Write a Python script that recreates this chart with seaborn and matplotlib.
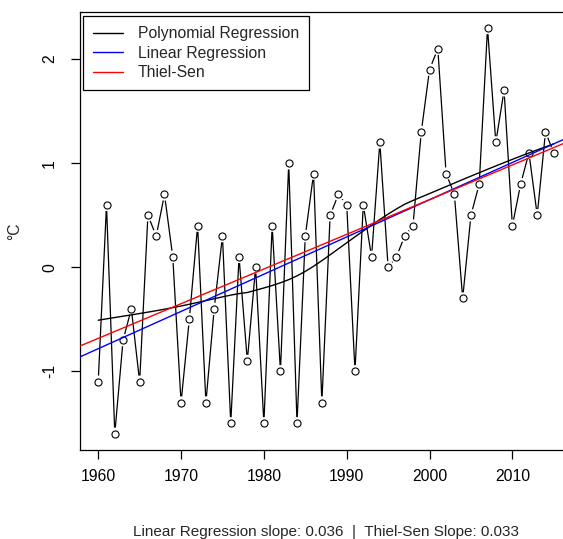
import numpy as np
import pandas as pd
import seaborn as sns
import matplotlib
matplotlib.use("Agg")
import matplotlib.pyplot as plt

# Annual temperature anomaly series (°C)
years = list(range(1960, 2016))
anomaly = [
    -1.1, 0.6, -1.6, -0.7, -0.4, -1.1, 0.5, 0.3, 0.7, 0.1,
    -1.3, -0.5, 0.4, -1.3, -0.4, 0.3, -1.5, 0.1, -0.9, 0.0,
    -1.5, 0.4, -1.0, 1.0, -1.5, 0.3, 0.9, -1.3, 0.5, 0.7,
    0.6, -1.0, 0.6, 0.1, 1.2, 0.0, 0.1, 0.3, 0.4, 1.3,
    1.9, 2.1, 0.9, 0.7, -0.3, 0.5, 0.8, 2.3, 1.2, 1.7,
    0.4, 0.8, 1.1, 0.5, 1.3, 1.1,
]
x_ticks = [1960, 1970, 1980, 1990, 2000, 2010]
y_ticks = [-1, 0, 1, 2]
legend_labels = ["Polynomial Regression", "Linear Regression", "Thiel-Sen"]

df = pd.DataFrame({"year": years, "temp": anomaly})
x = df["year"].to_numpy(float)
y = df["temp"].to_numpy(float)


def lowess(x, y, frac=2 / 3, degree=1, robust_iter=3):
    """Locally weighted polynomial smoother with tricube weights and
    bisquare robustness iterations."""
    n = len(x)
    q = int(np.floor(n * frac))
    rw = np.ones(n)
    fit = np.zeros(n)
    for _ in range(robust_iter + 1):
        for k, x0 in enumerate(x):
            d = np.abs(x - x0)
            h = np.sort(d)[q - 1]
            w = np.clip(1 - (d / h) ** 3, 0, None) ** 3 * rw
            c = np.polyfit(x - x0, y, degree, w=np.sqrt(w))
            fit[k] = c[-1]
        r = y - fit
        s = np.median(np.abs(r))
        u = np.clip(r / (6 * s), -1, 1)
        rw = (1 - u ** 2) ** 2
    return fit


df["smooth"] = lowess(x, y)
lin_slope, lin_int = np.polyfit(x, y, 1)
i, j = np.triu_indices(len(x), k=1)
ts_slope = np.median((y[j] - y[i]) / (x[j] - x[i]))
ts_int = np.median(y - ts_slope * x)

sns.set_theme(style="white")
plt.rcParams["font.family"] = ["Liberation Sans", "DejaVu Sans"]
plt.rcParams["axes.unicode_minus"] = False
FS = 11.3

W, H = 563, 539
fig = plt.figure(figsize=(W / 100, H / 100), dpi=100)
ax = fig.add_axes([80 / W, 1 - 450 / H, (572 - 80) / W, (450 - 11.7) / H])

xpad = 0.04 * (x.max() - x.min())
xlim = (x.min() - xpad, x.max() + xpad)
ypad = 0.04 * (y.max() - y.min())
ylim = (y.min() - ypad, y.max() + ypad)

# Data: line with gaps around the points
sns.lineplot(data=df, x="year", y="temp", ax=ax, color="black", lw=0.9, zorder=1)
ax.scatter(x, y, s=80, color="white", edgecolors="none", zorder=2)
ax.scatter(x, y, s=26, facecolors="white", edgecolors="black", linewidths=0.8, zorder=3)

# Fitted curves
xl = np.array(xlim)
sns.lineplot(data=df, x="year", y="smooth", ax=ax, color="black", lw=1.0, zorder=4,
             label=legend_labels[0])
ax.plot(xl, lin_int + lin_slope * xl, color="blue", lw=1.0, zorder=5, label=legend_labels[1])
ax.plot(xl, ts_int + ts_slope * xl, color="red", lw=1.0, zorder=6, label=legend_labels[2])

ax.set_xlim(*xlim)
ax.set_ylim(*ylim)
ax.set_xticks(x_ticks)
ax.set_yticks(y_ticks)
ax.set_xlabel("")
ax.set_ylabel("")
ax.tick_params(axis="both", direction="out", length=6.5, width=0.9,
               color="black", labelsize=FS, labelcolor="black", bottom=True, left=True)
ax.tick_params(axis="x", pad=7)
ax.tick_params(axis="y", pad=10)
for lab in ax.get_yticklabels():
    lab.set_rotation(90)
    lab.set_va("center")
for s in ax.spines.values():
    s.set_color("black")
    s.set_linewidth(0.9)

leg = ax.legend(loc="upper left", bbox_to_anchor=(0.006, 0.99), fontsize=FS,
                frameon=True, fancybox=False, framealpha=1, edgecolor="black",
                handlelength=1.9, handletextpad=0.95, borderpad=0.65,
                labelspacing=0.28, borderaxespad=0)
leg.get_frame().set_linewidth(0.9)

fig.text(15 / W, 1 - 231 / H, "°C", rotation=90, ha="center", va="center", fontsize=FS)
fig.text(326 / W, 1 - 532 / H,
         f"Linear Regression slope: {lin_slope:.3f}  |  Thiel-Sen Slope: {ts_slope:.3f}",
         ha="center", va="center", fontsize=11)

fig.savefig("out.png", dpi=100)
